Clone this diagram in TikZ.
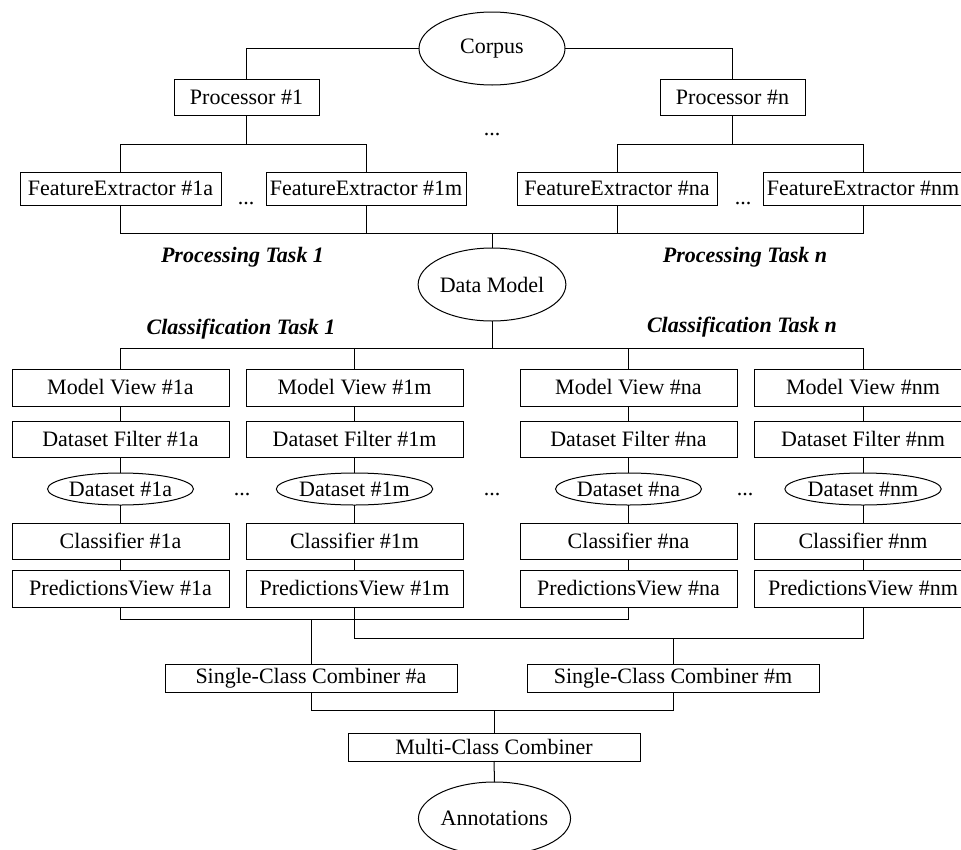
\documentclass[tikz,border=0pt]{standalone}
\usepackage{fontspec}
\setmainfont{Liberation Serif}
\usetikzlibrary{shapes.geometric}
\begin{document}
\begin{tikzpicture}[x=1pt,y=-1pt,
  every node/.style={font=\fontsize{22}{26}\selectfont, inner sep=0pt, outer sep=0pt},
  line/.style={draw=black, line width=1pt},
  boxnode/.style={draw=black, line width=1pt, rectangle, minimum width=#1},
  ovalnode/.style={draw=black, line width=1pt, ellipse},
  dotsnode/.style={anchor=base},
  tasklabel/.style={anchor=base, font=\fontsize{22}{26}\selectfont\bfseries\itshape}
]
\useasboundingbox (0,0) rectangle (961,849);
% top
\node[ovalnode, minimum width=146, minimum height=73] (corpus) at (492,48.5) {Corpus};
\node[boxnode=145, minimum height=36] (p1) at (246.5,97) {Processor \#1};
\node[boxnode=145, minimum height=36] (pn) at (732.5,97) {Processor \#n};
\node[dotsnode] (dtop) at (492,135) {...};
\node[boxnode=201, minimum height=33] (fe1a) at (120.5,188.5) {FeatureExtractor \#1a};
\node[boxnode=200, minimum height=33] (fe1m) at (366,188.5) {FeatureExtractor \#1m};
\node[boxnode=200, minimum height=33] (fena) at (617,188.5) {FeatureExtractor \#na};
\node[boxnode=200, minimum height=33] (fenm) at (863,188.5) {FeatureExtractor \#nm};
\node[dotsnode] (dfe1) at (246,204) {...};
\node[dotsnode] (dfen) at (743,204) {...};
\node[tasklabel] (pt1) at (242.5,262) {Processing Task 1};
\node[tasklabel] (ptn) at (745,262) {Processing Task n};
\node[ovalnode, minimum width=146, minimum height=73] (dm) at (492,284.5) {Data Model};
\node[tasklabel] (ct1) at (241,334) {Classification Task 1};
\node[tasklabel] (ctn) at (742,332) {Classification Task n};
% columns
\foreach \n/\x in {1a/120.5,1m/354.5,na/628.5,nm/863}{
  \node[boxnode=217, minimum height=37] (mv\n) at (\x,387.5) {Model View \#\n};
  \node[boxnode=217, minimum height=36] (df\n) at (\x,439) {Dataset Filter \#\n};
  \node[ovalnode, minimum width=145, minimum height=32] (ds\n) at (\x,489) {Dataset \#\n};
  \node[boxnode=217, minimum height=36] (cl\n) at (\x,541) {Classifier \#\n};
  \node[boxnode=217, minimum height=37] (pv\n) at (\x,588.5) {PredictionsView \#\n};
  \draw[line] (mv\n.south) -- (df\n.north);
  \draw[line] (df\n.south) -- (ds\n.north);
  \draw[line] (ds\n.south) -- (cl\n.north);
  \draw[line] (cl\n.south) -- (pv\n.north);
}
\node[dotsnode] (dds1) at (242,495) {...};
\node[dotsnode] (dds2) at (492,495) {...};
\node[dotsnode] (dds3) at (745,495) {...};
\node[boxnode=292, minimum height=28] (scca) at (311,678) {Single-Class Combiner \#a};
\node[boxnode=292, minimum height=28] (sccm) at (673,678) {Single-Class Combiner \#m};
\node[boxnode=292, minimum height=28] (mcc) at (494,747) {Multi-Class Combiner};
\node[ovalnode, minimum width=145, minimum height=73] (ann) at (494.5,818.5) {Annotations};
% bus coordinates
\coordinate (b1) at (0,144);
\coordinate (b2) at (0,233);
\coordinate (b3) at (0,348);
\coordinate (b4) at (0,619);
\coordinate (b5) at (0,638);
\coordinate (b6) at (0,710);
% connectors
\draw[line] (corpus.west) -| (p1.north);
\draw[line] (corpus.east) -| (pn.north);
\draw[line] (p1.south) -- (p1.south |- b1);
\draw[line] (fe1a.north) |- (fe1m.north |- b1) -- (fe1m.north);
\draw[line] (pn.south) -- (pn.south |- b1);
\draw[line] (fena.north) |- (fenm.north |- b1) -- (fenm.north);
\draw[line] (fe1a.south) |- (fenm.south |- b2) -- (fenm.south);
\draw[line] (fe1m.south) -- (fe1m.south |- b2);
\draw[line] (fena.south) -- (fena.south |- b2);
\draw[line] (dm.north) -- (dm.north |- b2);
\draw[line] (mv1a.north) |- (mvnm.north |- b3) -- (mvnm.north);
\draw[line] (mv1m.north) -- (mv1m.north |- b3);
\draw[line] (mvna.north) -- (mvna.north |- b3);
\draw[line] (dm.south) -- (dm.south |- b3);
\draw[line] (pv1a.south) |- (pvna.south |- b4) -- (pvna.south);
\draw[line] (scca.north) -- (scca.north |- b4);
\draw[line] (pv1m.south) |- (pvnm.south |- b5) -- (pvnm.south);
\draw[line] (sccm.north) -- (sccm.north |- b5);
\draw[line] (scca.south) |- (sccm.south |- b6) -- (sccm.south);
\draw[line] (mcc.north) -- (mcc.north |- b6);
\draw[line] (mcc.south) -- (ann.north);
\end{tikzpicture}
\end{document}
